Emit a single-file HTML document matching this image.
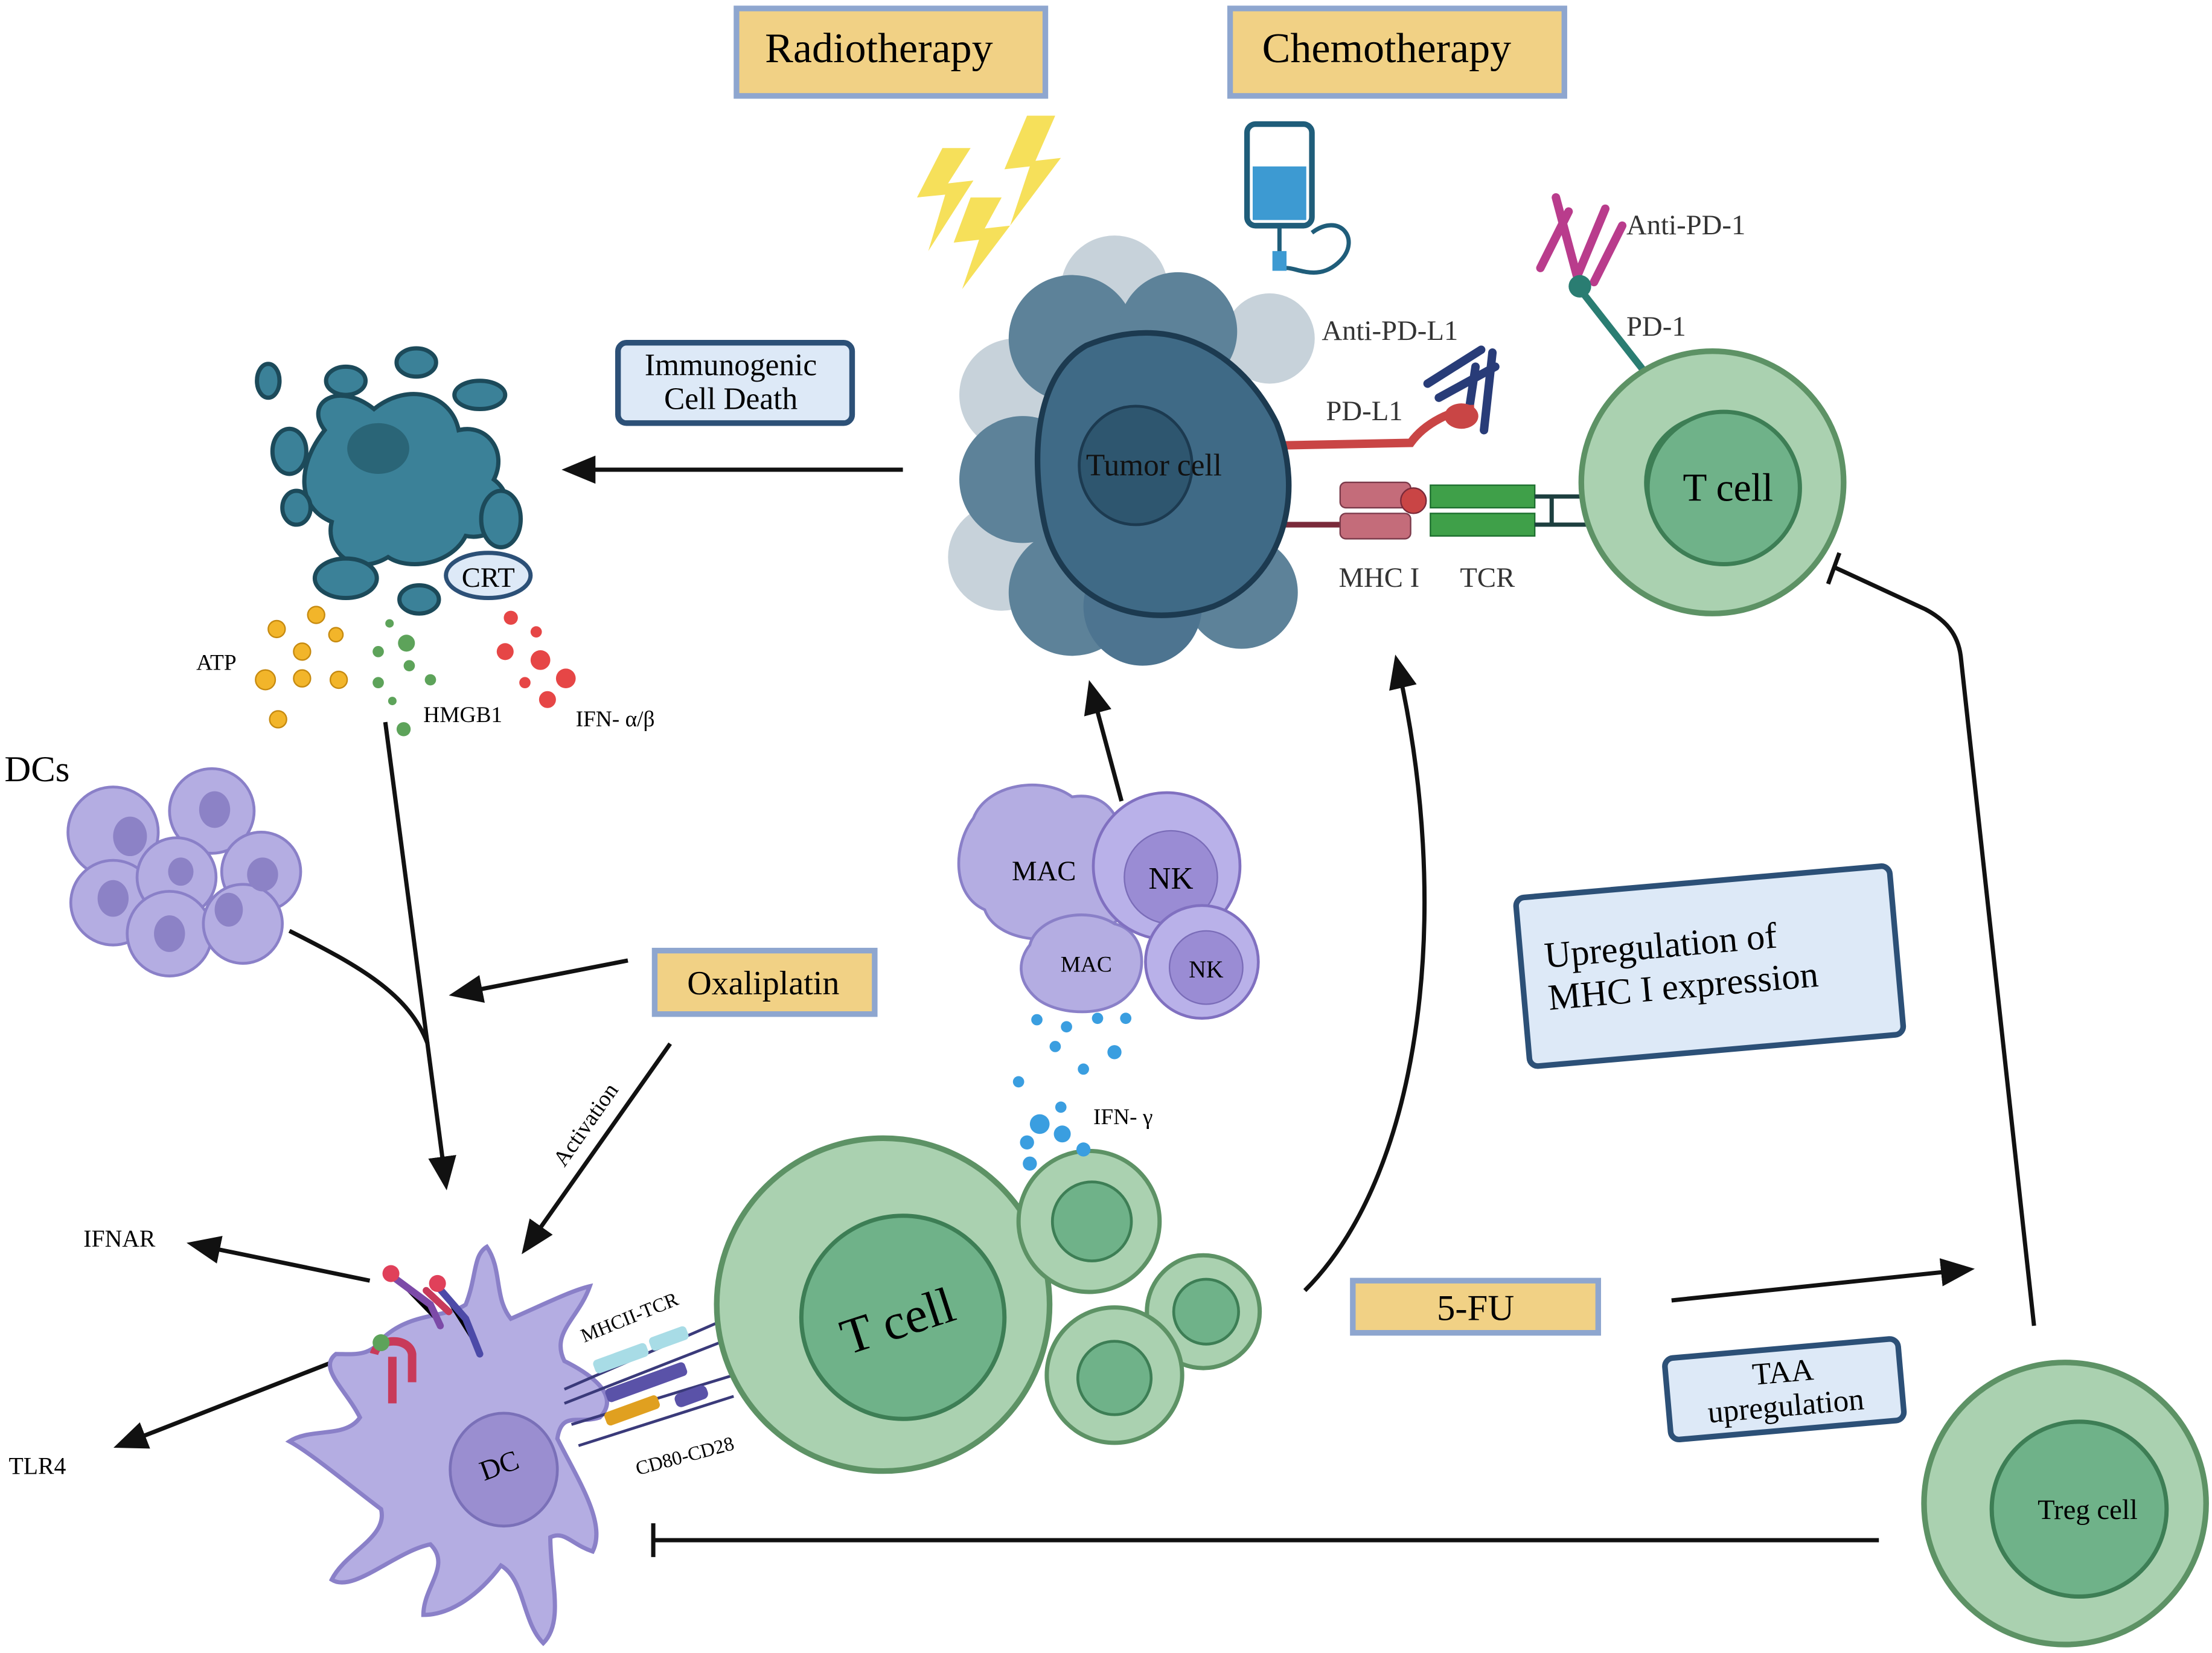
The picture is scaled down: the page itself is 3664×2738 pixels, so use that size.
<!DOCTYPE html>
<html><head><meta charset="utf-8"><style>html,body{margin:0;padding:0;background:#fff}svg{display:block}</style></head>
<body>
<svg width="3664" height="2738" viewBox="0 0 1568 1172" xmlns="http://www.w3.org/2000/svg" font-family="Liberation Serif, serif">
<defs>
<marker id="ah" markerWidth="10" markerHeight="10" refX="8" refY="5" orient="auto" markerUnits="userSpaceOnUse" viewBox="0 0 10 10"><path d="M0,0 L10,5 L0,10 z" fill="#111"/></marker>
<marker id="ahb" markerWidth="24" markerHeight="24" refX="20" refY="12" orient="auto" markerUnits="userSpaceOnUse" viewBox="0 0 24 24"><path d="M0,2 L24,12 L0,22 z" fill="#111"/></marker>
</defs>
<rect width="1568" height="1172" fill="#fff"/>

<!-- top boxes -->
<rect x="522" y="6" width="219" height="62" fill="#f1d185" stroke="#8ea6cf" stroke-width="4"/>
<text x="623" y="44" font-size="30" text-anchor="middle">Radiotherapy</text>
<rect x="872" y="6" width="237" height="62" fill="#f1d185" stroke="#8ea6cf" stroke-width="4"/>
<text x="983" y="44" font-size="30" text-anchor="middle">Chemotherapy</text>

<!-- lightning -->
<path d="M668,105 L650,140 L670,138 L658,178 L690,128 L672,130 L688,105 z" fill="#f6e05a"/>
<path d="M728,82 L712,120 L730,118 L716,160 L752,112 L734,114 L748,82 z" fill="#f6e05a"/>
<path d="M688,140 L676,172 L694,170 L682,205 L716,160 L698,162 L710,140 z" fill="#f6e05a"/>

<!-- IV bag -->
<rect x="884" y="88" width="46" height="72" rx="6" fill="#fff" stroke="#1f5d7a" stroke-width="4"/>
<rect x="888" y="118" width="38" height="38" fill="#3d9ad2"/>
<path d="M907,160 L907,185 M930,165 C950,150 965,170 950,185 C935,200 920,190 912,190" fill="none" stroke="#1f5d7a" stroke-width="3"/>
<rect x="902" y="178" width="10" height="14" fill="#3d9ad2"/>

<!-- Anti-PD-1 antibody -->
<g stroke="#b93c8c" stroke-width="6" fill="none" stroke-linecap="round">
<path d="M1118,196 L1103,140 M1118,196 L1138,148 M1092,190 L1112,150 M1130,200 L1150,160"/>
</g>
<text x="1153" y="166" font-size="20" fill="#333">Anti-PD-1</text>
<path d="M1120,205 L1185,288" stroke="#2a7d72" stroke-width="5"/>
<circle cx="1120" cy="203" r="8" fill="#2a7d72"/>
<text x="1153" y="238" font-size="20" fill="#333">PD-1</text>

<!-- Anti-PD-L1 -->
<text x="937" y="241" font-size="20" fill="#333">Anti-PD-L1</text>
<g stroke="#283c78" stroke-width="6" fill="none" stroke-linecap="round">
<path d="M1052,305 L1058,250 M1040,300 L1046,260 M1012,272 L1050,248 M1020,282 L1060,260"/>
</g>
<text x="940" y="298" font-size="20" fill="#333">PD-L1</text>
<path d="M898,316 L1000,314 C1010,300 1030,290 1045,290" stroke="#c94545" stroke-width="6" fill="none"/>
<ellipse cx="1036" cy="295" rx="12" ry="9" fill="#c94545"/>

<!-- MHC TCR -->
<path d="M898,372 L990,372" stroke="#7a2a3a" stroke-width="4"/>
<rect x="950" y="342" width="50" height="18" rx="4" fill="#c46c7a" stroke="#7a3a4a"/>
<rect x="950" y="364" width="50" height="18" rx="4" fill="#c46c7a" stroke="#7a3a4a"/>
<circle cx="1002" cy="355" r="9" fill="#c94545" stroke="#7a2a3a"/>
<rect x="1014" y="344" width="74" height="16" fill="#3fa049" stroke="#1d6f2f"/>
<rect x="1014" y="364" width="74" height="16" fill="#3fa049" stroke="#1d6f2f"/>
<path d="M1088,352 L1160,352 M1088,372 L1160,372 M1100,352 L1100,372" stroke="#1d3f3f" stroke-width="3"/>
<text x="949" y="416" font-size="20" fill="#333">MHC I</text>
<text x="1035" y="416" font-size="20" fill="#333">TCR</text>

<!-- tumor cluster -->
<g>
<circle cx="790" cy="205" r="38" fill="#c7d2da"/>
<circle cx="720" cy="280" r="40" fill="#c7d2da"/>
<circle cx="710" cy="395" r="38" fill="#c7d2da"/>
<circle cx="900" cy="240" r="32" fill="#c7d2da"/>
<circle cx="760" cy="240" r="45" fill="#5d8299"/>
<circle cx="835" cy="235" r="42" fill="#5d8299"/>
<circle cx="725" cy="340" r="45" fill="#5d8299"/>
<circle cx="760" cy="420" r="45" fill="#5d8299"/>
<circle cx="880" cy="420" r="40" fill="#5d8299"/>
<circle cx="810" cy="430" r="42" fill="#4d7490"/>
<path d="M770,245 C830,220 880,250 905,300 C925,350 910,410 860,430 C800,450 750,420 740,370 C730,320 735,265 770,245 z" fill="#3f6a86" stroke="#1c3a50" stroke-width="4"/>
<ellipse cx="805" cy="330" rx="40" ry="42" fill="#2e566f" stroke="#1c3a50" stroke-width="2"/>
<text x="818" y="337" font-size="22" text-anchor="middle" fill="#111">Tumor cell</text>
</g>

<!-- T cell top right -->
<circle cx="1214" cy="342" r="93" fill="#aad1b0" stroke="#5d9265" stroke-width="4"/>
<circle cx="1214" cy="342" r="47" fill="#6fb289" stroke="#3d7e55" stroke-width="3" transform="scale(1)"/>
<circle cx="1222" cy="346" r="54" fill="#6fb289" stroke="#3d7e55" stroke-width="3"/>
<text x="1225" y="355" font-size="28" text-anchor="middle">T cell</text>

<!-- ICD -->
<rect x="438" y="243" width="166" height="57" rx="6" fill="#dde9f7" stroke="#2c5077" stroke-width="4"/>
<text x="518" y="266" font-size="22" text-anchor="middle">Immunogenic</text>
<text x="518" y="290" font-size="22" text-anchor="middle">Cell Death</text>
<line x1="640" y1="333" x2="402" y2="333" stroke="#111" stroke-width="3" marker-end="url(#ahb)"/>

<!-- dying cell fragments -->
<g fill="#3b8198" stroke="#1c4a5a" stroke-width="3">
<path d="M230,305 C215,285 240,270 265,290 C290,270 320,280 325,305 C345,300 360,320 350,340 C370,355 355,385 330,380 C320,400 290,405 275,395 C250,410 230,390 235,370 C210,360 210,330 230,305 z"/>
<ellipse cx="190" cy="270" rx="8" ry="12"/>
<ellipse cx="245" cy="270" rx="14" ry="10"/>
<ellipse cx="295" cy="257" rx="14" ry="10"/>
<ellipse cx="340" cy="280" rx="18" ry="10"/>
<ellipse cx="205" cy="320" rx="12" ry="16"/>
<ellipse cx="210" cy="360" rx="10" ry="12"/>
<ellipse cx="245" cy="410" rx="22" ry="14"/>
<ellipse cx="297" cy="425" rx="14" ry="10"/>
<ellipse cx="355" cy="368" rx="14" ry="20"/>
</g>
<ellipse cx="268" cy="318" rx="22" ry="18" fill="#2a6577"/>
<ellipse cx="346" cy="408" rx="30" ry="16" fill="#dde9f7" stroke="#2c5077" stroke-width="3"/>
<text x="346" y="416" font-size="20" text-anchor="middle">CRT</text>

<!-- ATP dots -->
<g fill="#f2b52a" stroke="#c68a10">
<circle cx="196" cy="446" r="6"/><circle cx="224" cy="436" r="6"/><circle cx="214" cy="462" r="6"/><circle cx="188" cy="482" r="7"/><circle cx="214" cy="481" r="6"/><circle cx="240" cy="482" r="6"/><circle cx="197" cy="510" r="6"/><circle cx="238" cy="450" r="5"/>
</g>
<text x="139" y="475" font-size="16">ATP</text>
<g fill="#5da35a">
<circle cx="276" cy="442" r="3"/><circle cx="268" cy="462" r="4"/><circle cx="288" cy="456" r="6"/><circle cx="268" cy="484" r="4"/><circle cx="290" cy="472" r="4"/><circle cx="305" cy="482" r="4"/><circle cx="286" cy="517" r="5"/><circle cx="278" cy="497" r="3"/>
</g>
<text x="300" y="512" font-size="16">HMGB1</text>
<g fill="#e64646">
<circle cx="362" cy="438" r="5"/><circle cx="358" cy="462" r="6"/><circle cx="383" cy="468" r="7"/><circle cx="372" cy="484" r="4"/><circle cx="401" cy="481" r="7"/><circle cx="388" cy="496" r="6"/><circle cx="380" cy="448" r="4"/>
</g>
<text x="408" y="515" font-size="16">IFN- α/β</text>

<!-- DCs cluster -->
<text x="3" y="554" font-size="26">DCs</text>
<g fill="#b4ade2" stroke="#8a80c8" stroke-width="2">
<circle cx="80" cy="590" r="32"/><circle cx="150" cy="575" r="30"/><circle cx="185" cy="618" r="28"/><circle cx="80" cy="640" r="30"/><circle cx="125" cy="622" r="28"/><circle cx="120" cy="662" r="30"/><circle cx="172" cy="655" r="28"/>
</g>
<g fill="#8c82c6">
<ellipse cx="92" cy="593" rx="12" ry="14"/><ellipse cx="152" cy="574" rx="11" ry="13"/><ellipse cx="186" cy="620" rx="11" ry="12"/><ellipse cx="80" cy="637" rx="11" ry="13"/><ellipse cx="120" cy="662" rx="11" ry="13"/><ellipse cx="162" cy="645" rx="10" ry="12"/><ellipse cx="128" cy="618" rx="9" ry="10"/>
</g>

<!-- lines left -->
<line x1="273" y1="512" x2="316" y2="840" stroke="#111" stroke-width="3" marker-end="url(#ahb)"/>
<path d="M205,660 C255,685 290,705 303,740" fill="none" stroke="#111" stroke-width="3"/>
<line x1="445" y1="681" x2="322" y2="705" stroke="#111" stroke-width="3" marker-end="url(#ahb)"/>
<rect x="464" y="674" width="156" height="45" fill="#f1d185" stroke="#8ea6cf" stroke-width="4"/>
<text x="541" y="705" font-size="24" text-anchor="middle">Oxaliplatin</text>
<line x1="475" y1="740" x2="372" y2="886" stroke="#111" stroke-width="3" marker-end="url(#ahb)"/>
<text x="400" y="828" font-size="16" transform="rotate(-55 400 828)">Activation</text>
<line x1="262" y1="908" x2="136" y2="882" stroke="#111" stroke-width="3" marker-end="url(#ahb)"/>
<text x="59" y="884" font-size="17">IFNAR</text>
<line x1="235" y1="966" x2="84" y2="1025" stroke="#111" stroke-width="3" marker-end="url(#ahb)"/>
<text x="6" y="1045" font-size="17">TLR4</text>

<!-- DC -->
<path d="M270,950 C290,930 315,935 330,925 C338,905 335,890 345,884 C356,900 350,920 362,935 C385,925 405,915 418,912 C410,935 390,945 400,965 C420,975 440,990 425,1005 C410,1010 398,1000 395,1020 C410,1050 430,1080 420,1100 C405,1095 400,1085 390,1090 C390,1120 400,1150 385,1165 C370,1150 372,1120 355,1110 C340,1130 320,1145 300,1145 C300,1125 320,1110 305,1095 C280,1100 250,1130 235,1120 C245,1100 275,1090 270,1070 C250,1055 220,1030 205,1022 C220,1012 245,1020 255,1005 C245,985 225,970 238,960 C250,960 262,962 270,950 z" fill="#b4ade2" stroke="#8a80c8" stroke-width="3"/>
<ellipse cx="357" cy="1042" rx="38" ry="40" fill="#9a8ed0" stroke="#7a70b8" stroke-width="2"/>
<text x="343" y="1050" font-size="20" transform="rotate(-20 343 1050)">DC</text>
<!-- receptors -->
<g stroke-width="5" stroke-linecap="round">
<path d="M278,905 L305,925 L312,940" stroke="#7c4aa8"/>
<path d="M310,912 L330,935 L340,960" stroke="#4c4aa8"/>
<path d="M302,915 L318,930" stroke="#c83a5a"/>
</g>
<circle cx="277" cy="903" r="6" fill="#e0405a"/><circle cx="310" cy="910" r="6" fill="#e0405a"/>
<path d="M265,960 C268,948 290,948 292,960 L292,980 M278,962 L278,995" stroke="#c83a5a" stroke-width="6" fill="none"/>
<circle cx="270" cy="952" r="6" fill="#5da35a"/>
<g stroke-width="2">
<path d="M400,985 L515,935 M400,995 L515,950 M405,1010 L520,975 M410,1025 L520,990" stroke="#3a3a7a"/>
</g>
<rect x="420" y="958" width="40" height="10" rx="3" fill="#a8dce6" transform="rotate(-20 440 963)"/>
<rect x="460" y="944" width="28" height="10" rx="3" fill="#a8dce6" transform="rotate(-20 474 949)"/>
<rect x="428" y="975" width="60" height="10" rx="3" fill="#5a52a8" transform="rotate(-20 458 980)"/>
<rect x="428" y="995" width="40" height="10" rx="3" fill="#e0a020" transform="rotate(-20 448 1000)"/>
<rect x="478" y="985" width="24" height="10" rx="4" fill="#5a52a8" transform="rotate(-20 490 990)"/>
<text x="414" y="952" font-size="14" transform="rotate(-22 414 952)">MHCII-TCR</text>
<text x="452" y="1046" font-size="14" transform="rotate(-15 452 1046)">CD80-CD28</text>

<!-- big T cell -->
<circle cx="626" cy="925" r="118" fill="#aad1b0" stroke="#5d9265" stroke-width="4"/>
<circle cx="640" cy="934" r="72" fill="#6fb289" stroke="#3d7e55" stroke-width="3"/>
<text x="640" y="948" font-size="36" text-anchor="middle" transform="rotate(-18 640 948)">T cell</text>
<g fill="#aad1b0" stroke="#5d9265" stroke-width="3">
<circle cx="772" cy="866" r="50"/><circle cx="853" cy="930" r="40"/><circle cx="790" cy="975" r="48"/>
</g>
<g fill="#6fb289" stroke="#3d7e55" stroke-width="2">
<circle cx="774" cy="866" r="28"/><circle cx="855" cy="930" r="23"/><circle cx="790" cy="977" r="26"/>
</g>

<!-- MAC NK -->
<path d="M690,580 C700,555 740,550 760,565 C790,560 800,590 795,615 C810,640 790,665 765,660 C740,672 705,665 698,645 C675,635 675,600 690,580 z" fill="#b4ade2" stroke="#8a80c8" stroke-width="2"/>
<text x="740" y="624" font-size="20" text-anchor="middle">MAC</text>
<path d="M730,670 C735,650 770,642 790,655 C812,660 815,690 800,705 C785,722 750,720 735,708 C720,695 722,680 730,670 z" fill="#b4ade2" stroke="#8a80c8" stroke-width="2"/>
<text x="770" y="689" font-size="16" text-anchor="middle">MAC</text>
<circle cx="827" cy="614" r="52" fill="#b9b1e9" stroke="#8070c0" stroke-width="2"/>
<circle cx="830" cy="622" r="33" fill="#9a8cd4" stroke="#7a6cb8"/>
<text x="830" y="630" font-size="22" text-anchor="middle">NK</text>
<circle cx="852" cy="682" r="40" fill="#b9b1e9" stroke="#8070c0" stroke-width="2"/>
<circle cx="855" cy="686" r="26" fill="#9a8cd4" stroke="#7a6cb8"/>
<text x="855" y="693" font-size="17" text-anchor="middle">NK</text>
<line x1="795" y1="568" x2="773" y2="486" stroke="#111" stroke-width="3" marker-end="url(#ahb)"/>

<!-- IFN gamma dots -->
<g fill="#3a9ee0">
<circle cx="735" cy="723" r="4"/><circle cx="756" cy="728" r="4"/><circle cx="778" cy="722" r="4"/><circle cx="798" cy="722" r="4"/><circle cx="748" cy="742" r="4"/><circle cx="790" cy="746" r="5"/><circle cx="768" cy="758" r="4"/><circle cx="722" cy="767" r="4"/><circle cx="737" cy="797" r="7"/><circle cx="753" cy="804" r="6"/><circle cx="728" cy="810" r="5"/><circle cx="768" cy="815" r="5"/><circle cx="730" cy="825" r="5"/><circle cx="752" cy="785" r="4"/>
</g>
<text x="775" y="797" font-size="16">IFN- γ</text>

<!-- curve arrow up -->
<path d="M925,915 C1010,830 1030,640 990,468" fill="none" stroke="#111" stroke-width="3" marker-end="url(#ahb)"/>

<!-- Upregulation box -->
<g transform="rotate(-5 1212 685)">
<rect x="1079" y="625" width="266" height="120" rx="6" fill="#dde9f7" stroke="#2c5077" stroke-width="4"/>
<text x="1096" y="676" font-size="26">Upregulation of</text>
<text x="1096" y="706" font-size="26">MHC I  expression</text>
</g>

<!-- 5-FU -->
<rect x="959" y="908" width="174" height="37" fill="#f1d185" stroke="#8ea6cf" stroke-width="4"/>
<text x="1046" y="936" font-size="26" text-anchor="middle">5-FU</text>
<line x1="1185" y1="922" x2="1396" y2="900" stroke="#111" stroke-width="3" marker-end="url(#ahb)"/>

<g transform="rotate(-5 1265 985)">
<rect x="1182" y="956" width="166" height="58" rx="6" fill="#dde9f7" stroke="#2c5077" stroke-width="4"/>
<text x="1265" y="980" font-size="22" text-anchor="middle">TAA</text>
<text x="1265" y="1004" font-size="22" text-anchor="middle">upregulation</text>
</g>

<!-- Treg -->
<circle cx="1464" cy="1066" r="100" fill="#aad1b0" stroke="#5d9265" stroke-width="4"/>
<circle cx="1474" cy="1070" r="62" fill="#6fb289" stroke="#3d7e55" stroke-width="3"/>
<text x="1480" y="1077" font-size="20" text-anchor="middle">Treg cell</text>

<!-- inhibition lines -->
<line x1="1332" y1="1092" x2="463" y2="1092" stroke="#111" stroke-width="3"/>
<line x1="463" y1="1080" x2="463" y2="1104" stroke="#111" stroke-width="3"/>
<path d="M1442,940 L1390,465 C1388,450 1380,440 1365,432 L1300,402" fill="none" stroke="#111" stroke-width="3"/>
<line x1="1296" y1="414" x2="1304" y2="392" stroke="#111" stroke-width="3"/>
</svg>
</body></html>
